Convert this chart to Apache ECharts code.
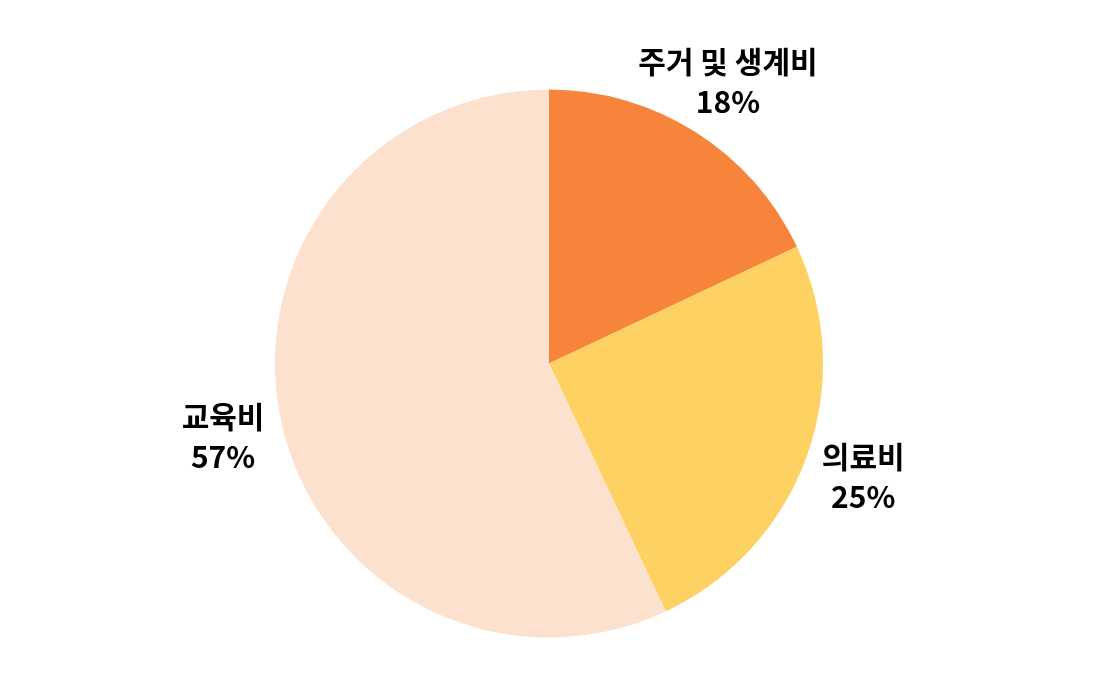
<!DOCTYPE html>
<html>
<head>
<meta charset="utf-8">
<script src="https://cdn.jsdelivr.net/npm/echarts@6/dist/echarts.min.js"></script>
<style>
  html, body { margin: 0; padding: 0; background: #fff; }
  #main { width: 1110px; height: 691px; }
</style>
</head>
<body>
<div id="main"></div>
<script>
var categories = ['주거 및 생계비', '의료비', '교육비'];
var values = [18, 25, 57];
var colors = ['#F7843B', '#FED262', '#FCE1CF'];

var myChart = echarts.init(document.getElementById('main'));

var pieData = categories.map(function (name, i) {
    return { name: name, value: values[i], itemStyle: { color: colors[i] } };
});
var labelData = categories.map(function (name, i) {
    return { name: name, value: values[i] };
});

var option = {
    animation: false,
    series: [
        {
            type: 'pie',
            center: [549, 363.5],
            radius: [0, 274],
            startAngle: 90,
            clockwise: true,
            silent: true,
            label: { show: false },
            labelLine: { show: false },
            data: pieData
        },
        {
            // transparent ring, only carries the labels
            type: 'pie',
            center: [549, 363.5],
            radius: [302, 360],
            startAngle: 90,
            clockwise: true,
            silent: true,
            itemStyle: { color: 'rgba(0,0,0,0)' },
            label: {
                show: true,
                position: 'inside',
                formatter: '{b}\n{c}%',
                color: '#000',
                fontSize: 30,
                fontWeight: 'bold',
                lineHeight: 40,
                fontFamily: 'Noto Sans CJK KR'
            },
            labelLine: { show: false },
            data: labelData
        }
    ]
};
myChart.setOption(option);
</script>
</body>
</html>
